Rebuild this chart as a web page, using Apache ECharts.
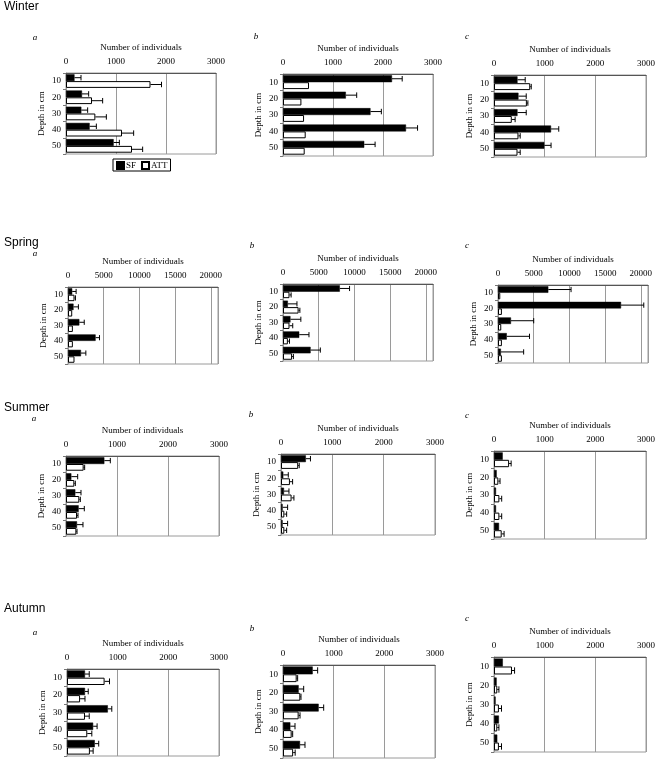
<!DOCTYPE html>
<html>
<head>
<meta charset="utf-8">
<script src="https://cdn.jsdelivr.net/npm/echarts@6/dist/echarts.min.js"></script>
<style>
html,body{margin:0;padding:0;background:#fff;}
#chart{width:662px;height:764px;}
</style>
</head>
<body>
<div id="chart"></div>
<script>
// ---------- data ----------
const categories = ['10', '20', '30', '40', '50'];
const seasons = ['Winter', 'Spring', 'Summer', 'Autumn'];
const siteLetters = ['a', 'b', 'c'];
const seriesNames = ['SF', 'ATT'];
const xTicksSmall = [0, 1000, 2000, 3000];
const xTicksSpring = [0, 5000, 10000, 15000, 20000];

// Winter
const winter_a_SF = [170, 320, 307, 473, 953];
const winter_a_SFerr = [130, 133, 126, 134, 114];
const winter_a_ATT = [1690, 520, 587, 1120, 1320];
const winter_a_ATTerr = [220, 213, 220, 233, 213];
const winter_b_SF = [2180, 1257, 1750, 2460, 1625];
const winter_b_SFerr = [204, 217, 217, 231, 217];
const winter_b_ATT = [520, 368, 421, 454, 434];
const winter_b_ATTerr = [0, 0, 0, 0, 0];
const winter_c_SF = [464, 483, 464, 1126, 993];
const winter_c_SFerr = [152, 153, 172, 152, 133];
const winter_c_ATT = [715, 649, 351, 483, 464];
const winter_c_ATTerr = [20, 20, 66, 34, 53];
// Spring
const spring_a_SF = [590, 773, 1590, 3864, 1818];
const spring_a_SFerr = [546, 682, 683, 545, 682];
const spring_a_ATT = [909, 590, 682, 682, 909];
const spring_a_ATTerr = [136, 0, 0, 0, 0];
const spring_b_SF = [7955, 682, 1045, 2273, 3864];
const spring_b_SFerr = [1363, 1273, 1455, 1363, 1363];
const spring_b_ATT = [909, 2182, 909, 682, 1273];
const spring_b_ATTerr = [227, 182, 455, 227, 182];
const spring_c_SF = [7045, 17227, 1818, 1227, 409];
const spring_c_SFerr = [3182, 3182, 3182, 3182, 3182];
const spring_c_ATT = [318, 545, 455, 545, 545];
const spring_c_ATTerr = [0, 0, 0, 0, 0];
// Summer
const summer_a_SF = [752, 105, 183, 248, 216];
const summer_a_SFerr = [117, 124, 111, 111, 117];
const summer_a_ATT = [346, 163, 261, 216, 203];
const summer_a_ATTerr = [20, 20, 20, 19, 13];
const summer_b_SF = [484, 45, 58, 32, 32];
const summer_b_SFerr = [90, 97, 97, 97, 97];
const summer_b_ATT = [335, 174, 206, 65, 65];
const summer_b_ATTerr = [20, 52, 46, 45, 45];
const summer_c_SF = [172, 53, 40, 40, 99];
const summer_c_SFerr = [0, 0, 0, 0, 0];
const summer_c_ATT = [298, 86, 106, 106, 152];
const summer_c_ATTerr = [40, 33, 46, 46, 47];
// Autumn
const autumn_a_SF = [355, 355, 806, 516, 548];
const autumn_a_SFerr = [84, 64, 78, 78, 78];
const autumn_a_ATT = [742, 258, 355, 400, 452];
const autumn_a_ATTerr = [97, 97, 84, 90, 64];
const autumn_b_SF = [586, 309, 704, 145, 336];
const autumn_b_SFerr = [98, 99, 99, 92, 98];
const autumn_b_ATT = [270, 342, 309, 171, 200];
const autumn_b_ATTerr = [19, 13, 27, 20, 40];
const autumn_c_SF = [174, 52, 32, 97, 65];
const autumn_c_SFerr = [0, 0, 0, 0, 0];
const autumn_c_ATT = [355, 65, 97, 65, 97];
const autumn_c_ATTerr = [51, 32, 51, 32, 51];

const panelData = [
  [winter_a_SF, winter_a_SFerr, winter_a_ATT, winter_a_ATTerr, xTicksSmall],
  [winter_b_SF, winter_b_SFerr, winter_b_ATT, winter_b_ATTerr, xTicksSmall],
  [winter_c_SF, winter_c_SFerr, winter_c_ATT, winter_c_ATTerr, xTicksSmall],
  [spring_a_SF, spring_a_SFerr, spring_a_ATT, spring_a_ATTerr, xTicksSpring],
  [spring_b_SF, spring_b_SFerr, spring_b_ATT, spring_b_ATTerr, xTicksSpring],
  [spring_c_SF, spring_c_SFerr, spring_c_ATT, spring_c_ATTerr, xTicksSpring],
  [summer_a_SF, summer_a_SFerr, summer_a_ATT, summer_a_ATTerr, xTicksSmall],
  [summer_b_SF, summer_b_SFerr, summer_b_ATT, summer_b_ATTerr, xTicksSmall],
  [summer_c_SF, summer_c_SFerr, summer_c_ATT, summer_c_ATTerr, xTicksSmall],
  [autumn_a_SF, autumn_a_SFerr, autumn_a_ATT, autumn_a_ATTerr, xTicksSmall],
  [autumn_b_SF, autumn_b_SFerr, autumn_b_ATT, autumn_b_ATTerr, xTicksSmall],
  [autumn_c_SF, autumn_c_SFerr, autumn_c_ATT, autumn_c_ATTerr, xTicksSmall]
];

// ---------- layout (positions only) ----------
const layout = [
  {left: 66, top: 73, width: 150, height: 81, lx: 35, ly: 38, xMax: 3000},
  {left: 283, top: 74, width: 150, height: 82, lx: 256, ly: 37, xMax: 3000},
  {left: 494, top: 75, width: 152, height: 82, lx: 467, ly: 37, xMax: 3000},
  {left: 68, top: 287, width: 150, height: 77, lx: 35, ly: 254, xMax: 21000},
  {left: 283, top: 284, width: 150, height: 77, lx: 252, ly: 246, xMax: 21000},
  {left: 498, top: 285, width: 150, height: 78, lx: 467, ly: 246, xMax: 21000},
  {left: 66, top: 456, width: 153, height: 80, lx: 34, ly: 419, xMax: 3000},
  {left: 281, top: 454, width: 154, height: 81, lx: 251, ly: 415, xMax: 3000},
  {left: 494, top: 451, width: 152, height: 88, lx: 467, ly: 416, xMax: 3000},
  {left: 67, top: 669, width: 152, height: 87, lx: 35, ly: 633, xMax: 3000},
  {left: 283, top: 665, width: 152, height: 93, lx: 252, ly: 629, xMax: 3000},
  {left: 494, top: 657, width: 152, height: 95, lx: 467, ly: 619, xMax: 3000}
];
const seasonTitleY = [7, 243, 408, 609];

const SERIF = "'Liberation Serif', 'Times New Roman', serif";
const SANS = "'Liberation Sans', Arial, sans-serif";
const GAP = 0.16;

function errRender(side) {
  return function (params, api) {
    const v = api.value(0), idx = api.value(1), e = api.value(2);
    if (!e) return null;
    const p0 = api.coord([v, idx]);
    const p1 = api.coord([v + e, idx]);
    const band = api.size([0, 1])[1];
    const barW = band * (1 - GAP) / 2;
    const y = p0[1] + side * barW / 2;
    const h = barW * 0.8;
    return {
      type: 'group',
      children: [
        {type: 'line', shape: {x1: p0[0], y1: y, x2: p1[0], y2: y}, style: {stroke: '#000', lineWidth: 1}},
        {type: 'line', shape: {x1: p1[0], y1: y - h / 2, x2: p1[0], y2: y + h / 2}, style: {stroke: '#000', lineWidth: 1}}
      ]
    };
  };
}

const grids = [], xAxes = [], yAxes = [], series = [], graphics = [];
layout.forEach((L, i) => {
  const [sf, sfErr, att, attErr, ticks] = panelData[i];
  const interval = ticks[1] - ticks[0];
  grids.push({left: L.left, top: L.top, width: L.width, height: L.height, show: true,
    borderColor: '#9a9a9a', borderWidth: 1, backgroundColor: '#fff'});
  xAxes.push({
    type: 'value', gridIndex: i, position: 'top', min: ticks[0], max: L.xMax, interval: interval,
    name: 'Number of individuals', nameLocation: 'middle', nameGap: 21,
    nameTextStyle: {fontFamily: SERIF, fontSize: 9, color: '#000'},
    axisLine: {show: true, lineStyle: {color: '#555', width: 1}},
    axisTick: {show: false},
    axisLabel: {fontFamily: SERIF, fontSize: 9, color: '#000', margin: 7,
      formatter: v => (ticks.indexOf(v) >= 0 ? String(v) : '')},
    splitLine: {show: true, lineStyle: {color: '#9a9a9a', width: 1}}
  });
  yAxes.push({
    type: 'category', gridIndex: i, data: categories, inverse: true,
    name: 'Depth in cm', nameLocation: 'middle', nameGap: 20, nameRotate: 90,
    nameTextStyle: {fontFamily: SERIF, fontSize: 9, color: '#000'},
    axisLine: {show: true, lineStyle: {color: '#9a9a9a'}},
    axisTick: {show: true, length: 3, lineStyle: {color: '#777'}},
    axisLabel: {fontFamily: SERIF, fontSize: 9, color: '#000', margin: 5},
    splitLine: {show: false}
  });
  series.push({
    name: seriesNames[0], type: 'bar', xAxisIndex: i, yAxisIndex: i, data: sf,
    barGap: '0%', barCategoryGap: (GAP * 100) + '%',
    itemStyle: {color: '#000', borderColor: '#000', borderWidth: 0.5}, silent: true
  });
  series.push({
    name: seriesNames[1], type: 'bar', xAxisIndex: i, yAxisIndex: i, data: att,
    barGap: '0%', barCategoryGap: (GAP * 100) + '%',
    itemStyle: {color: '#fff', borderColor: '#000', borderWidth: 1}, silent: true
  });
  series.push({
    type: 'custom', xAxisIndex: i, yAxisIndex: i, z: 5, silent: true,
    renderItem: errRender(-1), encode: {x: 0, y: 1},
    data: sf.map((v, k) => [v, k, sfErr[k]])
  });
  series.push({
    type: 'custom', xAxisIndex: i, yAxisIndex: i, z: 5, silent: true,
    renderItem: errRender(1), encode: {x: 0, y: 1},
    data: att.map((v, k) => [v, k, attErr[k]])
  });
  graphics.push({type: 'text', x: L.lx, y: L.ly, style: {text: siteLetters[i % 3], font: 'italic 9px ' + SERIF,
    fill: '#000', textAlign: 'center', textVerticalAlign: 'middle'}});
});
seasons.forEach((s, k) => {
  graphics.push({type: 'text', x: 4, y: seasonTitleY[k], style: {text: s, font: '12px ' + SANS,
    fill: '#000', textAlign: 'left', textVerticalAlign: 'middle'}});
});

const chart = echarts.init(document.getElementById('chart'), null, {renderer: 'canvas'});
chart.setOption({
  animation: false,
  backgroundColor: '#fff',
  grid: grids, xAxis: xAxes, yAxis: yAxes, series: series, graphic: graphics,
  legend: {
    data: seriesNames, left: 113, top: 159, icon: 'rect', itemWidth: 7, itemHeight: 7, itemGap: 5,
    borderColor: '#000', borderWidth: 1, padding: [2, 3, 1, 3], selectedMode: false,
    textStyle: {fontFamily: SERIF, fontSize: 9, color: '#000', padding: [0, 0, 0, -3]}
  }
});
</script>
</body>
</html>
